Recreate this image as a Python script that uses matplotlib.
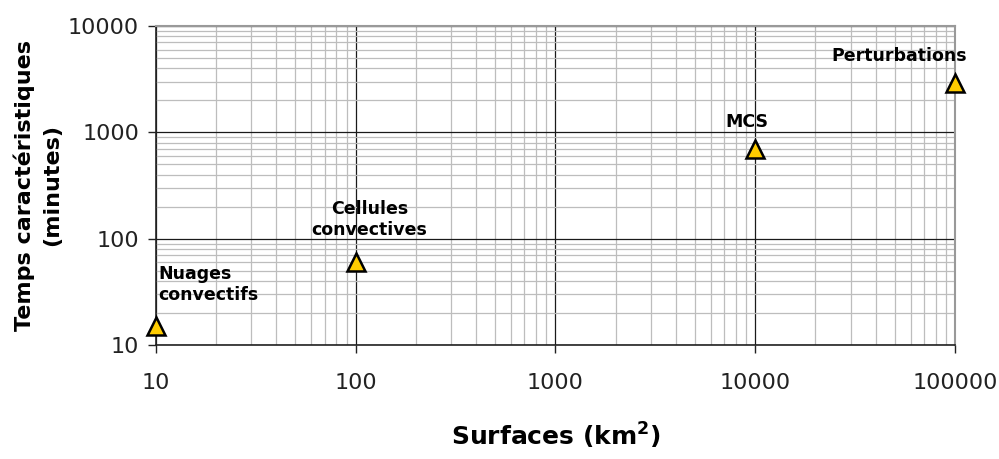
import matplotlib
matplotlib.use("Agg")
import matplotlib.pyplot as plt
from matplotlib.ticker import LogLocator, FixedLocator, NullFormatter

surfaces = [10, 100, 10000, 100000]
temps = [15, 60, 700, 2880]
names = ["Nuages\nconvectifs", "Cellules\nconvectives", "MCS", "Perturbations"]
xticks = [10, 100, 1000, 10000, 100000]
yticks = [10, 100, 1000, 10000]

plt.rcParams['font.family'] = ['DejaVu Sans']
fig = plt.figure(figsize=(9.99, 4.59), dpi=100)
ax = fig.add_axes([0.156, 0.2484, 0.8, 0.695])
ax.set_xscale('log')
ax.set_yscale('log')
ax.set_xlim(10, 100000)
ax.set_ylim(10, 10000)

ax.xaxis.set_major_locator(FixedLocator(xticks))
ax.yaxis.set_major_locator(FixedLocator(yticks))
ax.set_xticklabels([str(v) for v in xticks])
ax.set_yticklabels([str(v) for v in yticks])
ax.xaxis.set_minor_locator(LogLocator(base=10, subs=range(2, 10)))
ax.yaxis.set_minor_locator(LogLocator(base=10, subs=range(2, 10)))
ax.xaxis.set_minor_formatter(NullFormatter())
ax.yaxis.set_minor_formatter(NullFormatter())

ax.grid(which='major', color='#1a1a1a', linewidth=0.9)
ax.grid(which='minor', color='#bdbdbd', linewidth=0.9)
ax.set_axisbelow(True)
ax.tick_params(which='major', direction='out', length=6, width=1, colors='#222222', labelsize=16, pad=6)
ax.tick_params(which='minor', length=0)
ax.tick_params(axis='x', pad=14)
for s in ['top', 'right']:
    ax.spines[s].set_color('#999999')
    ax.spines[s].set_linewidth(1.5)
for s in ['left', 'bottom']:
    ax.spines[s].set_color('#222222')
    ax.spines[s].set_linewidth(1.2)

ax.plot(surfaces, temps, linestyle='none', marker='^', markersize=13,
        markerfacecolor='#FFCC00', markeredgecolor='black', markeredgewidth=1.8,
        clip_on=False, zorder=5)

offsets = [(2, 16, 'left'), (10, 17, 'center'), (-6, 13, 'center'), (-40, 13, 'center')]
for x, y, n, (dx, dy, ha) in zip(surfaces, temps, names, offsets):
    ax.annotate(n, (x, y), xytext=(dx, dy), textcoords='offset points',
                ha=ha, va='bottom', fontsize=12.5, fontweight='bold', linespacing=1.2)

ax.set_xlabel('Surfaces (km$^\\mathbf{2}$)', fontsize=18, fontweight='bold', labelpad=20)
ax.set_ylabel('Temps caractéristiques\n(minutes)', fontsize=16, fontweight='bold',
              labelpad=4, linespacing=1.45)

fig.savefig('out.png', dpi=100)
